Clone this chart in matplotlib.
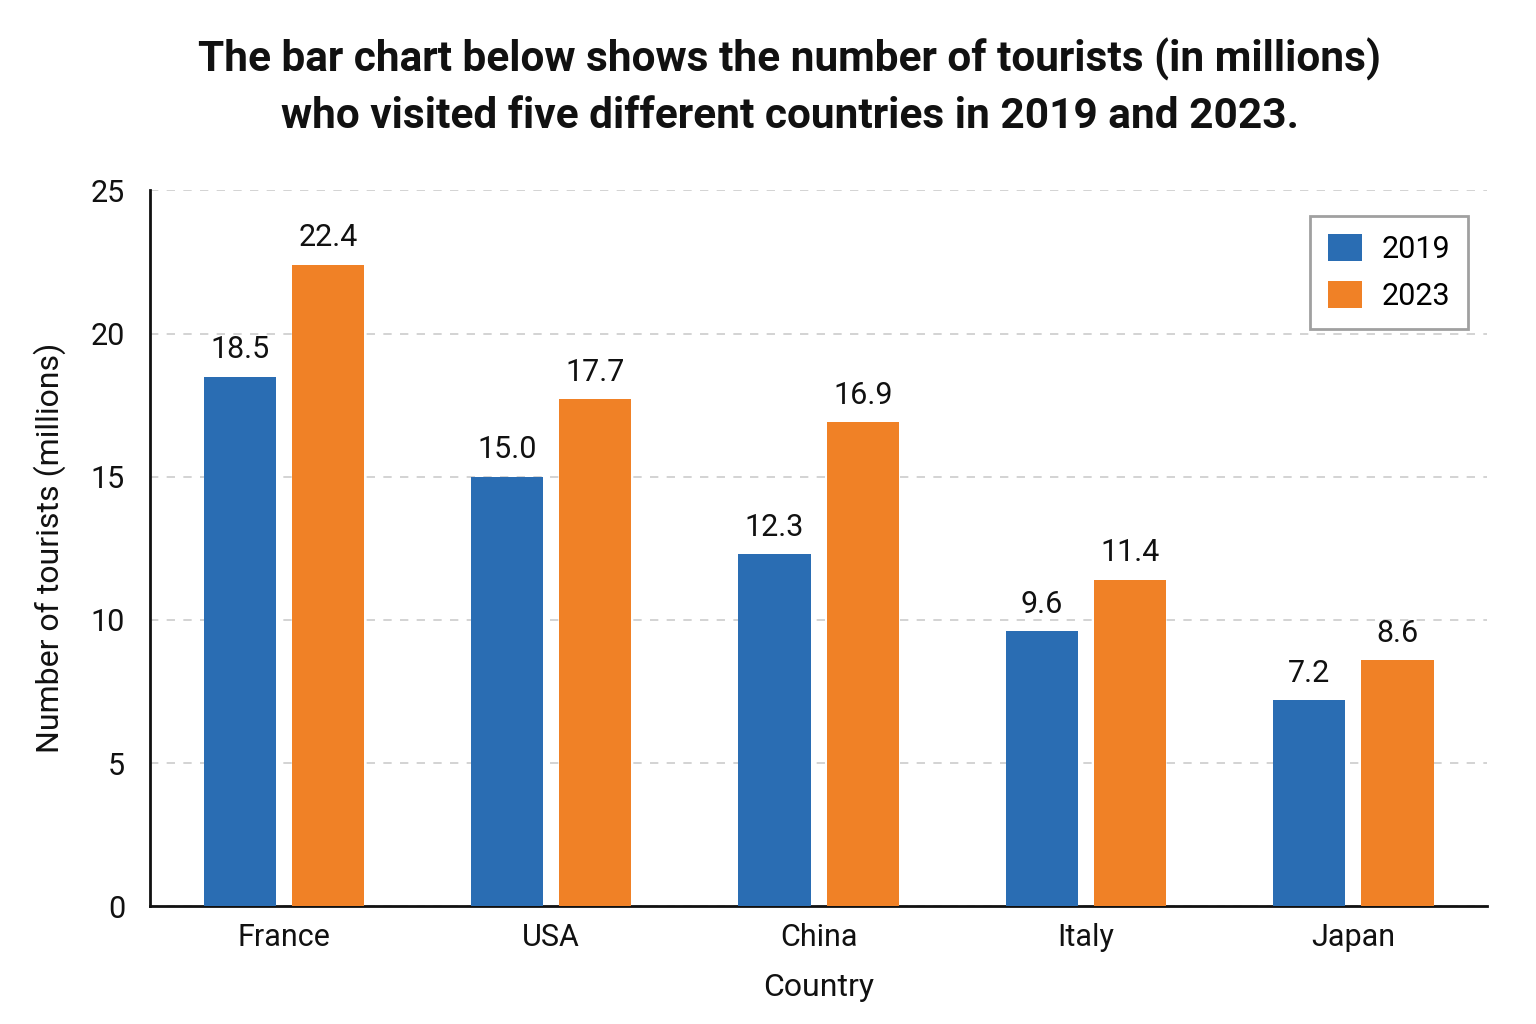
import matplotlib
matplotlib.use("Agg")
import matplotlib.pyplot as plt
import numpy as np

countries = ["France", "USA", "China", "Italy", "Japan"]
tourists_2019 = [18.5, 15.0, 12.3, 9.6, 7.2]
tourists_2023 = [22.4, 17.7, 16.9, 11.4, 8.6]
years = ["2019", "2023"]
yticks = [0, 5, 10, 15, 20, 25]

plt.rcParams['font.family'] = ['Roboto', 'DejaVu Sans']

fig = plt.figure(figsize=(15.36, 10.24), dpi=100)
ax = fig.add_axes([0.0977, 0.115, 0.8705, 0.699])

x = np.arange(len(countries))
w = 0.27
off = 0.165
c19 = "#2a6db3"
c23 = "#f08126"
b1 = ax.bar(x - off, tourists_2019, w, color=c19, label=years[0], zorder=3)
b2 = ax.bar(x + off, tourists_2023, w, color=c23, label=years[1], zorder=3)

for bars, vals in ((b1, tourists_2019), (b2, tourists_2023)):
    for b, v in zip(bars, vals):
        ax.annotate(f"{v:.1f}", (b.get_x() + b.get_width() / 2, v),
                    xytext=(0, 9), textcoords="offset points",
                    ha="center", va="bottom", fontsize=22, color="#111111")

ax.set_xlim(-0.5, 4.5)
ax.set_ylim(0, 25)
ax.set_yticks(yticks)
ax.set_xticks(x)
ax.set_xticklabels(countries)
ax.tick_params(axis="both", length=0, labelsize=22, colors="#111111")
ax.tick_params(axis="x", pad=12)
ax.tick_params(axis="y", pad=18)
ax.yaxis.grid(True, linestyle=(0, (5, 5)), color="#cccccc", linewidth=1.2, zorder=0)
ax.set_axisbelow(True)
for s in ("top", "right"):
    ax.spines[s].set_visible(False)
for s in ("left", "bottom"):
    ax.spines[s].set_linewidth(2)
    ax.spines[s].set_color("#111111")

ax.set_xlabel("Country", fontsize=23, labelpad=15, color="#111111")
ax.set_ylabel("Number of tourists (millions)", fontsize=23, labelpad=18, color="#111111")

leg = ax.legend(loc="upper right", bbox_to_anchor=(0.986, 0.965), borderaxespad=0,
                fontsize=22, frameon=True, fancybox=False, edgecolor="#888888",
                handlelength=1.1, handleheight=1.0, borderpad=0.6, labelspacing=0.55,
                handletextpad=0.65)
leg.get_frame().set_linewidth(2)

fig.suptitle("The bar chart below shows the number of tourists (in millions)\n"
             "who visited five different countries in 2019 and 2023.",
             fontsize=30.5, fontweight="bold", x=0.514, y=0.963, linespacing=1.45,
             color="#111111")

fig.savefig("out.png", dpi=100, facecolor="white")
